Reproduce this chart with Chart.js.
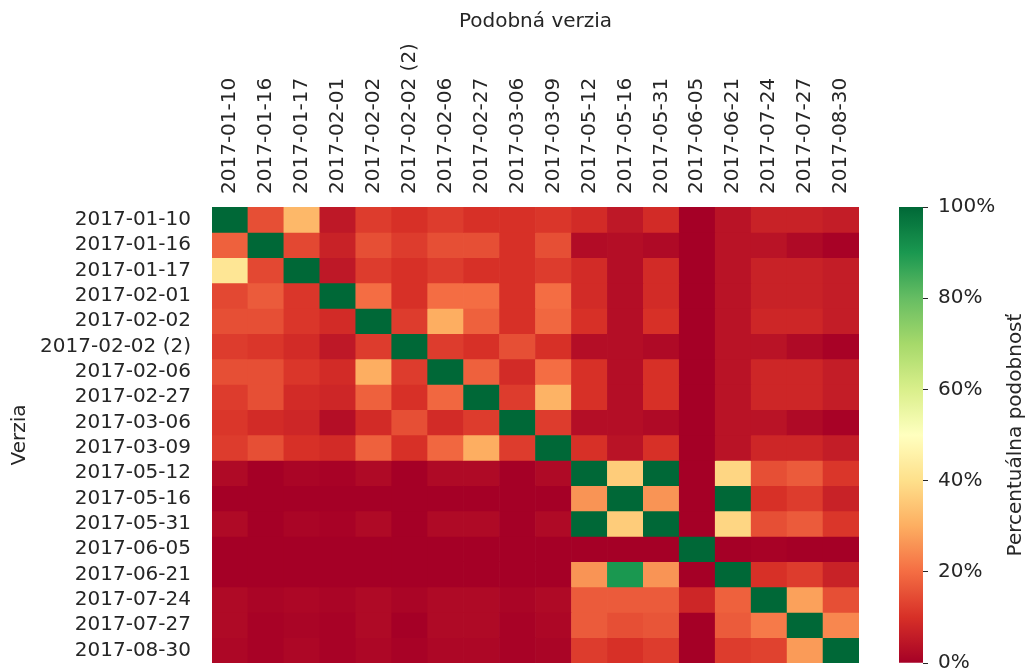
<!DOCTYPE html>
<html>
<head>
<meta charset="utf-8">
<script src="https://cdn.jsdelivr.net/npm/chart.js@4.4.0/dist/chart.umd.min.js"></script>
<style>
html, body { margin: 0; padding: 0; background: #fff; }
#wrap { position: relative; width: 1028px; height: 671px; }
canvas { position: absolute; top: 0; }
</style>
</head>
<body>
<div id="wrap">
<canvas id="heat" width="1028" height="671" style="left:0"></canvas>
<canvas id="cbar" width="168" height="671" style="left:860px"></canvas>
</div>
<script>
// versions on both axes (rows = Verzia, columns = Podobná verzia)
const versions = ['2017-01-10', '2017-01-16', '2017-01-17', '2017-02-01', '2017-02-02', '2017-02-02 (2)',
    '2017-02-06', '2017-02-27', '2017-03-06', '2017-03-09', '2017-05-12', '2017-05-16', '2017-05-31',
    '2017-06-05', '2017-06-21', '2017-07-24', '2017-07-27', '2017-08-30'];

// similarity in percent, one array per row
const similarity = [
    [100, 15, 32, 5, 12, 10, 12, 10, 10, 11, 9, 5, 9, 0, 4, 7, 7, 6],
    [18, 100, 14, 7, 15, 12, 15, 15, 10, 15, 2.5, 3, 2, 0, 4, 4, 2, 0.5],
    [42, 14, 100, 5, 12, 10, 12, 10, 10, 12, 9, 3, 9, 0, 4, 7, 7, 6],
    [14, 17, 11, 100, 20, 10, 20, 20, 10, 20, 9, 3, 9, 0, 4, 7, 7, 6],
    [15, 15, 11, 9, 100, 12, 30, 18, 10, 19, 10, 3, 10, 0, 4, 8, 8, 6],
    [12, 11, 9, 5, 12, 100, 12, 10, 15, 10, 3, 3, 2, 0, 4, 4, 2, 0.5],
    [15, 15, 11, 9, 30, 12, 100, 18, 9, 20, 10, 3, 10, 0, 4, 8, 8, 6],
    [12, 15, 9, 8, 18, 10, 19, 100, 12, 31, 10, 3, 10, 0, 4, 8, 8, 6],
    [11, 9, 8, 3, 9, 15, 9, 12, 100, 12, 3, 3, 2, 0, 4, 4, 2, 0.5],
    [12, 15, 10, 9, 18, 10, 19, 30, 12, 100, 10, 4, 10, 0, 4, 8, 8, 6],
    [2, 0, 1, 0.5, 2, 0, 2, 2, 0, 2, 100, 36, 100, 0, 38, 15, 17, 11],
    [0, 0, 0, 0, 0, 0, 0, 0, 0, 0, 26, 100, 26, 0, 100, 10, 12, 7],
    [2, 0, 1, 0.5, 2, 0, 2, 2, 0, 2, 100, 36, 100, 0, 38, 15, 17, 11],
    [0, 0, 0, 0, 0, 0, 0, 0, 0, 0, 0, 0, 0, 100, 0, 0.5, 0, 0],
    [0, 0, 0, 0, 0, 0, 0, 0, 0, 0, 26, 90, 26, 0, 100, 10, 12, 7],
    [2, 1, 1.5, 1, 2, 1, 2, 2, 1, 2, 17, 17, 17, 8, 18, 100, 28, 15],
    [2, 0.5, 1, 0.5, 2, 0, 2, 2, 0.5, 1.5, 17, 15, 16, 0, 17, 22, 100, 24],
    [1.5, 0.5, 1.5, 0.5, 1.5, 0.5, 1.5, 1.5, 0.5, 1, 12, 10, 12, 0, 12, 13, 27, 100]
];

const cbarTicks = [0, 20, 40, 60, 80, 100];

// RdYlGn colormap stops
const rdylgn = ['#a50026', '#d73027', '#f46d43', '#fdae61', '#fee08b', '#ffffbf',
    '#d9ef8b', '#a6d96a', '#66bd63', '#1a9850', '#006837'];

function hex2rgb(h) {
    return [parseInt(h.substr(1, 2), 16), parseInt(h.substr(3, 2), 16), parseInt(h.substr(5, 2), 16)];
}

function cmap(p) {
    let t = Math.max(0, Math.min(1, p / 100)) * 10;
    let i = Math.min(9, Math.floor(t));
    let f = t - i;
    let a = hex2rgb(rdylgn[i]), b = hex2rgb(rdylgn[i + 1]);
    let c = a.map((v, k) => Math.round(v + (b[k] - v) * f));
    return 'rgb(' + c.join(',') + ')';
}

Chart.defaults.font.family = '"DejaVu Sans", sans-serif';
Chart.defaults.font.size = 20;
Chart.defaults.color = '#262626';
Chart.defaults.animation = false;

// one stacked dataset per row, each cell has height 1
let datasets = similarity.map(function (row, r) {
    return {
        label: versions[r],
        data: versions.map(() => 1),
        backgroundColor: row.map(cmap),
        borderWidth: 0,
        barPercentage: 1,
        categoryPercentage: 1
    };
});

new Chart(document.getElementById('heat'), {
    type: 'bar',
    data: { labels: versions, datasets: datasets },
    options: {
        responsive: false,
        layout: { padding: { top: 0, left: 0, right: 169, bottom: 8 } },
        plugins: { legend: { display: false }, tooltip: { enabled: false } },
        scales: {
            x: {
                position: 'top',
                stacked: true,
                grid: { display: false },
                border: { display: false },
                ticks: { minRotation: 90, maxRotation: 90, autoSkip: false, padding: 5, labelOffset: 24 },
                title: { display: true, text: 'Podobná verzia', padding: { top: 10, bottom: 4 } },
                afterFit: function (s) { s.height = 207; s.paddingLeft = 0; s.paddingRight = 0; }
            },
            y: {
                type: 'linear',
                stacked: true,
                reverse: true,
                min: 0,
                max: versions.length,
                grid: { display: false },
                border: { display: false },
                afterBuildTicks: function (s) {
                    s.ticks = versions.map((v, i) => ({ value: i + 0.5 }));
                },
                ticks: {
                    autoSkip: false,
                    padding: 13,
                    callback: function (value) { return versions[Math.floor(value)]; }
                },
                title: { display: true, text: 'Verzia', padding: { top: 8, bottom: 4 } },
                afterFit: function (s) { s.width = 212; s.paddingTop = 0; s.paddingBottom = 0; }
            }
        }
    }
});

// colour bar title, reading bottom to top
const cbarTitle = {
    id: 'cbarTitle',
    afterDraw(chart) {
        const c = chart.ctx, a = chart.chartArea;
        c.save();
        c.translate(156, (a.top + a.bottom) / 2);
        c.rotate(-Math.PI / 2);
        c.font = '20px "DejaVu Sans", sans-serif';
        c.fillStyle = '#262626';
        c.textAlign = 'center';
        c.textBaseline = 'middle';
        c.fillText('Percentuálna podobnosť', 0, 0);
        c.restore();
    }
};

new Chart(document.getElementById('cbar'), {
    type: 'bar',
    data: {
        labels: [''],
        datasets: [{
            data: [100],
            borderWidth: 0,
            barPercentage: 1,
            categoryPercentage: 1,
            backgroundColor: function (ctx) {
                const a = ctx.chart.chartArea;
                if (!a) return null;
                const g = ctx.chart.ctx.createLinearGradient(0, a.bottom, 0, a.top);
                for (let i = 0; i <= 50; i++) g.addColorStop(i / 50, cmap(i * 2));
                return g;
            }
        }]
    },
    options: {
        responsive: false,
        layout: { padding: { top: 207, left: 39, right: 0, bottom: 8 } },
        plugins: { legend: { display: false }, tooltip: { enabled: false } },
        scales: {
            x: { display: false },
            y: {
                position: 'right',
                min: 0,
                max: 100,
                afterBuildTicks: function (s) {
                    s.ticks = cbarTicks.map(v => ({ value: v }));
                },
                grid: { display: true, drawOnChartArea: false, drawTicks: true, tickLength: 5, color: '#262626' },
                border: { display: false },
                ticks: { padding: 10, callback: v => v + '%' },
                afterFit: function (s) { s.width = 105; s.paddingTop = 0; s.paddingBottom = 0; }
            }
        }
    },
    plugins: [cbarTitle]
});
</script>
</body>
</html>
